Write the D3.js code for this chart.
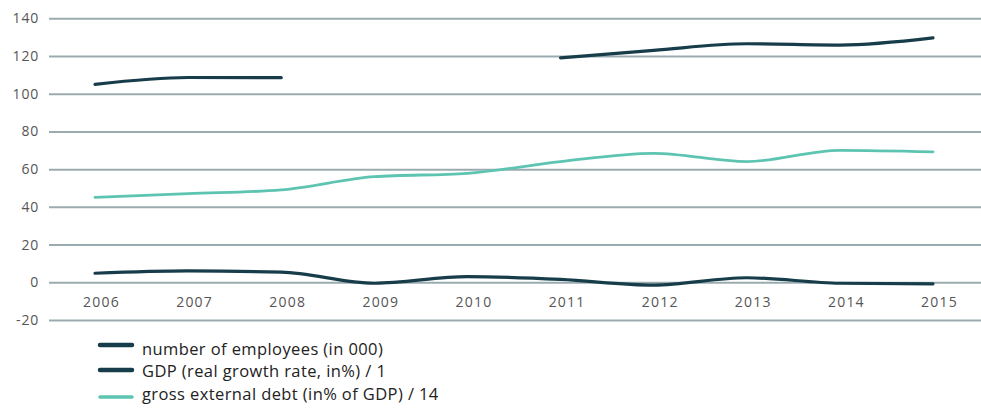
<!DOCTYPE html>
<html>
<head>
<meta charset="utf-8">
<script src="https://cdn.jsdelivr.net/npm/d3@7"></script>
<style>
  body { margin: 0; background: #fff; }
  svg { display: block; }
</style>
</head>
<body>
<script>
const years = ["2006", "2007", "2008", "2009", "2010", "2011", "2012", "2013", "2014", "2015"];
const employees = [105, 108.6, 108.5, null, null, 119, 123, 126.5, 125.8, 129.6];
const gdp = [4.8, 6, 5.4, -0.5, 3, 1.5, -1.5, 2.4, -0.5, -0.8];
const debt = [45, 47, 49, 56, 57.8, 64, 68.4, 64, 70, 69.2];
const yTicks = [-20, 0, 20, 40, 60, 80, 100, 120, 140];
const legendLabels = [
    "number of employees (in 000)",
    "GDP (real growth rate, in%) / 1",
    "gross external debt (in% of GDP) / 14"
];

const width = 981, height = 420;
const dark = "#173d4a", teal = "#5ec4b2", grid = "#9aabb0";

const svg = d3.select("body").append("svg")
    .attr("width", width)
    .attr("height", height);

const x = d3.scalePoint().domain(years).range([95, 933]);
const y = d3.scaleLinear().domain([-20, 140]).range([320, 18.3]);

// gridlines + y labels
const yAxis = svg.append("g")
    .attr("transform", "translate(49,0)")
    .call(d3.axisLeft(y).tickValues(yTicks).tickFormat(d => String(d))
        .tickSize(-(width - 49)).tickPadding(10));
yAxis.select(".domain").remove();
yAxis.selectAll(".tick line")
    .attr("stroke", grid)
    .attr("stroke-width", 2);
yAxis.selectAll(".tick text")
    .attr("fill", "#555")
    .style("font-family", "'Open Sans', sans-serif")
    .style("font-size", "14px")
    .style("letter-spacing", "0.8px");

// x labels
const xAxis = svg.append("g")
    .attr("transform", `translate(6,${y(0)})`)
    .call(d3.axisBottom(x).tickSize(0).tickPadding(15));
xAxis.select(".domain").remove();
xAxis.selectAll(".tick text")
    .attr("fill", "#555")
    .style("font-family", "'Open Sans', sans-serif")
    .style("font-size", "14px")
    .style("letter-spacing", "1.2px");

const line = d3.line()
    .defined(d => d[1] !== null)
    .x(d => x(d[0]))
    .y(d => y(d[1]))
    .curve(d3.curveMonotoneX);

const series = [
    { values: employees, color: dark, w: 3.2 },
    { values: gdp, color: dark, w: 3.2 },
    { values: debt, color: teal, w: 2.8 }
];

series.forEach(s => {
    svg.append("path")
        .datum(years.map((yr, i) => [yr, s.values[i]]))
        .attr("fill", "none")
        .attr("stroke", s.color)
        .attr("stroke-width", s.w)
        .attr("stroke-linecap", "round")
        .attr("d", line);
});

// legend
const legend = svg.append("g");
const rowY = [349, 371, 394];
const swatchY = [345, 370, 397];
legendLabels.forEach((label, i) => {
    legend.append("line")
        .attr("x1", 100).attr("x2", 132)
        .attr("y1", swatchY[i]).attr("y2", swatchY[i])
        .attr("stroke", series[i].color)
        .attr("stroke-width", i === 2 ? 3.5 : 4.5)
        .attr("stroke-linecap", "round");
    legend.append("text")
        .attr("x", 142)
        .attr("y", rowY[i])
        .attr("dy", "0.35em")
        .attr("fill", "#222")
        .style("font-family", "'Open Sans', sans-serif")
        .style("font-size", "16.5px")
        .style("letter-spacing", "0.4px")
        .text(label);
});
</script>
</body>
</html>
